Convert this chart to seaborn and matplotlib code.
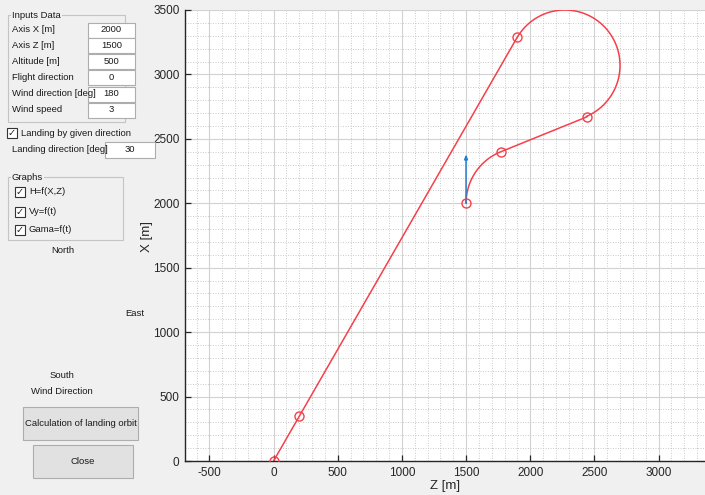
import numpy as np
import pandas as pd
import matplotlib
matplotlib.use("Agg")
import matplotlib.pyplot as plt
from matplotlib.patches import Rectangle
from matplotlib.ticker import MultipleLocator
import seaborn as sns

# ---------------- data ----------------
# straight approach legs: Z [m], X [m]
leg1_z = [0, 1900]
leg1_x = [0, 3290]
leg2_z = [2440, 1770]
leg2_x = [2670, 2400]
# turning arcs: centre Z, centre X, radius, start angle, end angle [deg]
arc1 = dict(cz=2270, cx=3070, r=430, a0=149.3, a1=-67.0)
arc2 = dict(cz=1931, cx=2000, r=431, a0=112.0, a1=180.0)
# marked points on the orbit
mark_z = [0, 200, 1900, 2440, 1770, 1500]
mark_x = [0, 346, 3290, 2670, 2400, 2000]
# landing direction arrow
arrow_z = [1500, 1500]
arrow_x = [2000, 2380]

x_ticks = [-500, 0, 500, 1000, 1500, 2000, 2500, 3000]
y_ticks = [0, 500, 1000, 1500, 2000, 2500, 3000, 3500]

input_labels = ["Axis X [m]", "Axis Z [m]", "Altitude [m]", "Flight direction",
                "Wind direction [deg]", "Wind speed"]
input_values = ["2000", "1500", "500", "0", "180", "3"]
graph_labels = ["H=f(X,Z)", "Vy=f(t)", "Gama=f(t)"]


def arc_points(a, n=80):
    t = np.deg2rad(np.linspace(a["a0"], a["a1"], n))
    return a["cz"] + a["r"] * np.cos(t), a["cx"] + a["r"] * np.sin(t)


a1z, a1x = arc_points(arc1)
a2z, a2x = arc_points(arc2)
path = pd.DataFrame({
    "Z": np.concatenate([leg1_z, a1z, leg2_z, a2z]),
    "X": np.concatenate([leg1_x, a1x, leg2_x, a2x]),
})

# ---------------- figure ----------------
sns.set_style("white")
plt.rcParams["font.family"] = ["Liberation Sans", "DejaVu Sans"]
plt.rcParams["axes.unicode_minus"] = False
W, H = 705, 495
BG = "#f0f0f0"
fig = plt.figure(figsize=(W / 100, H / 100), dpi=100, facecolor=BG)

ax_l, ax_r, ax_t, ax_b = 185, 706, 10, 461
ax = fig.add_axes([ax_l / W, 1 - ax_b / H, (ax_r - ax_l) / W, (ax_b - ax_t) / H])
ax.set_facecolor("white")

RED = "#f5404a"
sns.lineplot(data=path, x="Z", y="X", sort=False, estimator=None, color=RED,
             linewidth=1.1, ax=ax, zorder=3)
ax.plot(mark_z, mark_x, linestyle="none", marker="o", markersize=6.5,
        markerfacecolor="none", markeredgecolor=RED, markeredgewidth=1.0, zorder=4)
ax.annotate("", xy=(arrow_z[1], arrow_x[1]), xytext=(arrow_z[0], arrow_x[0]),
            arrowprops=dict(arrowstyle="-|>,head_length=0.25,head_width=0.1",
                            color="#1f7fd0", lw=1.1, shrinkA=0, shrinkB=0), zorder=3)

ax.set_xlim(-690, 3370)
ax.set_ylim(0, 3500)
ax.set_xticks(x_ticks)
ax.set_yticks(y_ticks)
ax.xaxis.set_minor_locator(MultipleLocator(100))
ax.yaxis.set_minor_locator(MultipleLocator(100))
ax.grid(True, which="major", color="#d2d2d2", linewidth=0.8, linestyle="-")
ax.grid(True, which="minor", color="#c4c4c4", linewidth=0.6, linestyle=(0, (1.2, 1.8)))
ax.set_axisbelow(True)
ax.tick_params(which="major", direction="in", length=4, width=0.9, color="#262626",
               labelsize=8.5, labelcolor="#262626", bottom=True, left=True, pad=4)
ax.tick_params(which="minor", length=0)
for s in ["top", "right"]:
    ax.spines[s].set_visible(False)
for s in ["left", "bottom"]:
    ax.spines[s].set_color("#262626")
    ax.spines[s].set_linewidth(1.0)
ax.set_xlabel("Z [m]", fontsize=9.5, color="#262626", labelpad=1)
ax.set_ylabel("X [m]", fontsize=9.5, color="#262626")
ax.yaxis.set_label_coords((153 - ax_l) / (ax_r - ax_l), (ax_b - 237) / (ax_b - ax_t))


# ---------------- left GUI panel ----------------
def P(x, y):
    return x / W, 1 - y / H


def rect(x0, y0, x1, y1, fc="white", ec="#adadad", lw=0.8):
    fig.patches.append(Rectangle(P(x0, y1), (x1 - x0) / W, (y1 - y0) / H,
                                 transform=fig.transFigure, facecolor=fc,
                                 edgecolor=ec, linewidth=lw, zorder=1))


def txt(x, y, s, ha="left", size=6.8):
    fig.text(*P(x, y), s, ha=ha, va="center", fontsize=size, color="#1a1a1a", zorder=3)


def checkbox(x, y, label):
    rect(x, y - 5, x + 10, y + 5, fc="white", ec="#333333", lw=0.8)
    fig.text(*P(x + 5, y), "\u2713", ha="center", va="center", fontsize=7,
             color="#222222", family=["DejaVu Sans"], zorder=3)
    txt(x + 14, y, label)


def groupbox(x0, y0, x1, y1, title):
    rect(x0, y0, x1, y1, fc="none", ec="#c4c4c4", lw=0.8)
    fig.text(*P(x0 + 4, y0), title, ha="left", va="center", fontsize=6.8,
             color="#1a1a1a", zorder=3,
             bbox=dict(facecolor=BG, edgecolor="none", pad=0.6))


groupbox(8, 15, 125, 122, "Inputs Data")
rows_y = [30, 45, 61, 77, 94, 110]
for yy, lab, val in zip(rows_y, input_labels, input_values):
    txt(12, yy, lab)
    rect(88, yy - 7.5, 135, yy + 7.5)
    txt(111.5, yy, val, ha="center")

checkbox(7, 133, "Landing by given direction")
txt(12, 150, "Landing direction [deg]")
rect(105, 142, 155, 158)
txt(130, 150, "30", ha="center")

groupbox(8, 177, 123, 240, "Graphs")
for yy, lab in zip([192, 212, 230], graph_labels):
    checkbox(15, yy, lab)

txt(63, 250, "North", ha="center")
txt(135, 313, "East", ha="center")
txt(62, 375, "South", ha="center")
txt(62, 392, "Wind Direction", ha="center")

rect(23, 407, 138, 440, fc="#e1e1e1", ec="#adadad")
txt(80.5, 423.5, "Calculation of landing orbit", ha="center")
rect(33, 445, 133, 478, fc="#e1e1e1", ec="#adadad")
txt(83, 461.5, "Close", ha="center")

fig.savefig("out.png", dpi=100, facecolor=BG)
